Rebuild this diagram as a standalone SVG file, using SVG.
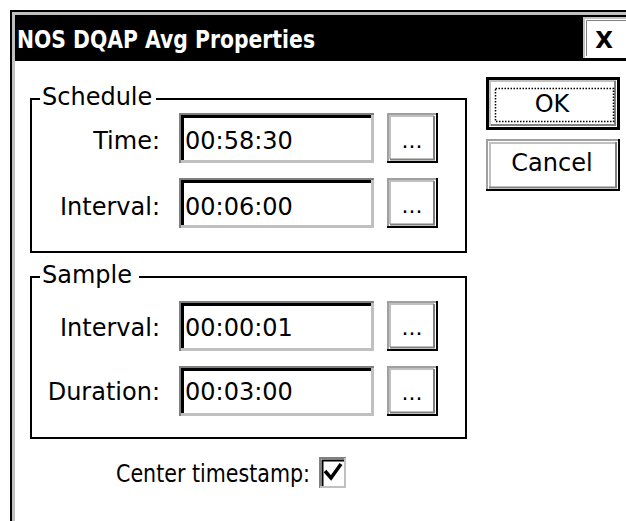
<svg xmlns="http://www.w3.org/2000/svg" width="626" height="521" viewBox="0 0 626 521">
<style>
text{font-family:"DejaVu Sans","Liberation Sans",sans-serif;font-size:24px;fill:#000}
.lbl{text-anchor:end}
.grp{fill:none;stroke:#000;stroke-width:2}
.dots{text-anchor:middle;font-size:22px}
</style>
<defs>
<g id="edit">
<rect x="0" y="0" width="195" height="50" fill="#fff"/>
<path d="M1 50 V1 H195" fill="none" stroke="#808080" stroke-width="2"/>
<path d="M3.5 48 V3.5 H192" fill="none" stroke="#000" stroke-width="3"/>
<path d="M2 48.5 H193.5 V2" fill="none" stroke="#c0c0c0" stroke-width="3"/>
</g>
<g id="btn">
<rect x="0" y="0" width="51" height="50" fill="#fff"/>
<path d="M1 49 V1 H50" fill="none" stroke="#a0a0a0" stroke-width="2"/>
<path d="M3 46 V3 H47" fill="none" stroke="#c0c0c0" stroke-width="2"/>
<path d="M0 49 H50 V0" fill="none" stroke="#000" stroke-width="2"/>
<path d="M3 46.5 H47 V3" fill="none" stroke="#808080" stroke-width="2"/>
</g>
</defs>
<rect width="626" height="521" fill="#fff"/>
<g id="window">
<rect x="10" y="10" width="616" height="511" fill="#fff"/>
<path d="M11 521 V11 H626" fill="none" stroke="#000" stroke-width="2"/>
<path d="M13.5 521 V13.5 H626" fill="none" stroke="#c0c0c0" stroke-width="3"/>
<rect x="15" y="15" width="611" height="46" fill="#000"/>
<text x="17" y="48" style="fill:#fff;font-weight:bold;font-size:25px" textLength="298" lengthAdjust="spacingAndGlyphs">NOS DQAP Avg Properties</text>
</g>
<g id="close">
<rect x="583" y="17" width="43" height="41" fill="#fff"/>
<path d="M584 58 V18 H626" fill="none" stroke="#c0c0c0" stroke-width="2"/>
<path d="M586.5 56 V20.5 H626" fill="none" stroke="#808080" stroke-width="1"/>
<text x="604" y="48" style="text-anchor:middle;font-size:23px;font-weight:bold">X</text>
</g>
<g id="ok">
<rect x="486" y="77" width="134" height="53" fill="#fff"/>
<rect x="487.5" y="78.5" width="131" height="50" fill="none" stroke="#000" stroke-width="3"/>
<path d="M490 126 V81 H616" fill="none" stroke="#c0c0c0" stroke-width="2"/>
<path d="M491 125 H615 V81" fill="none" stroke="#808080" stroke-width="2"/>
<rect x="495.5" y="88.5" width="118" height="33" fill="none" stroke="#000" stroke-width="1.5" stroke-dasharray="1.5 1.5"/>
<text x="552" y="112" style="text-anchor:middle">OK</text>
</g>
<g id="cancel">
<rect x="486" y="139" width="134" height="52" fill="#fff"/>
<path d="M487 190 V140 H619" fill="none" stroke="#a0a0a0" stroke-width="2"/>
<path d="M490 187 V143 H616" fill="none" stroke="#c0c0c0" stroke-width="2"/>
<path d="M486 190 H619 V139" fill="none" stroke="#000" stroke-width="2"/>
<path d="M489 187.5 H616 V142" fill="none" stroke="#808080" stroke-width="2"/>
<text x="552" y="171" style="text-anchor:middle">Cancel</text>
</g>
<g id="schedule">
<path class="grp" d="M40 99 H31 V252 H466 V99 H156"/>
<text x="42" y="105">Schedule</text>
</g>
<g id="sched-time">
<text class="lbl" x="160" y="149">Time:</text>
<use href="#edit" x="179" y="113"/>
<text x="185" y="149">00:58:30</text>
<use href="#btn" x="387" y="113"/>
<text class="dots" x="412" y="148">...</text>
</g>
<g id="sched-interval">
<text class="lbl" x="160" y="215">Interval:</text>
<use href="#edit" x="179" y="178"/>
<text x="185" y="215">00:06:00</text>
<use href="#btn" x="387" y="178"/>
<text class="dots" x="412" y="213">...</text>
</g>
<g id="sample">
<path class="grp" d="M40 277 H31 V438 H466 V277 H139"/>
<text x="42" y="283">Sample</text>
</g>
<g id="sample-interval">
<text class="lbl" x="160" y="336">Interval:</text>
<use href="#edit" x="179" y="301"/>
<text x="185" y="336">00:00:01</text>
<use href="#btn" x="387" y="301"/>
<text class="dots" x="412" y="335">...</text>
</g>
<g id="sample-duration">
<text class="lbl" x="160" y="400">Duration:</text>
<use href="#edit" x="179" y="366"/>
<text x="185" y="400">00:03:00</text>
<use href="#btn" x="387" y="366"/>
<text class="dots" x="412" y="400">...</text>
</g>
<g id="center-timestamp">
<text x="116" y="482" textLength="194" lengthAdjust="spacingAndGlyphs">Center timestamp:</text>
<rect x="319" y="457" width="27" height="31" fill="#fff"/>
<path d="M320 488 V458 H346" fill="none" stroke="#808080" stroke-width="2"/>
<path d="M322.5 486 V460.5 H344" fill="none" stroke="#000" stroke-width="2"/>
<path d="M320 487 H345 V458" fill="none" stroke="#c0c0c0" stroke-width="2"/>
<path d="M325 471 L331 478 L341 464" fill="none" stroke="#000" stroke-width="3.5"/>
</g>
</svg>
